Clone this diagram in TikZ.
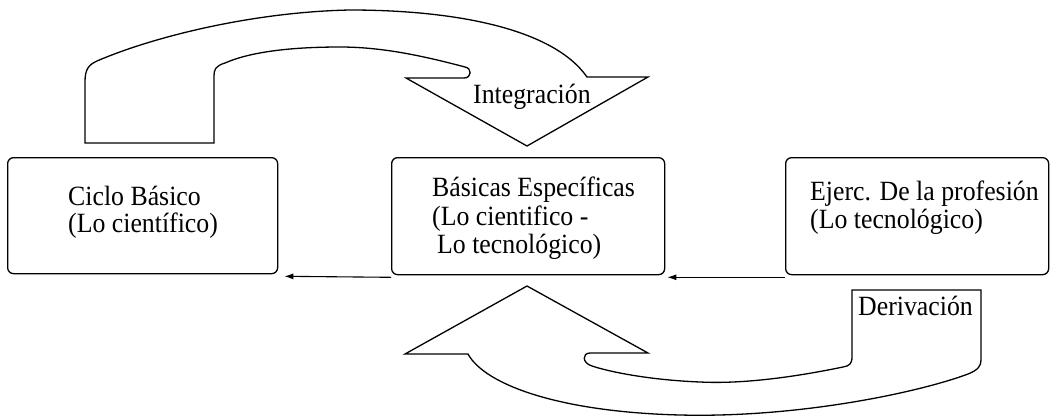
\documentclass[tikz,border=0pt]{standalone}
\usepackage{fontspec}
\setmainfont{Liberation Serif}
\usetikzlibrary{arrows.meta}
\newcommand{\vstretch}[1]{\scalebox{1}[1.08]{#1}}
\tikzset{
  box/.style={draw, line width=1.3pt, rounded corners=6pt, anchor=north west, inner sep=0pt},
  txt/.style={anchor=base west, inner sep=0pt, font=\fontsize{25.8}{30}\selectfont},
  conn/.style={line width=1.1pt, -{Latex[length=9pt,width=6pt]}},
  bigarrow/.style={draw, line width=1.3pt, line join=miter}
}
\begin{document}
\begin{tikzpicture}[x=1pt,y=-1pt]
\useasboundingbox (0,0) rectangle (1052,416);
% boxes
\node[box, minimum width=270pt, minimum height=116pt] (b1) at (7,157) {};
\node[box, minimum width=273pt, minimum height=117pt] (b2) at (391,157) {};
\node[box, minimum width=263pt, minimum height=117pt] (b3) at (785,157) {};
% box texts
\node[txt] (t1a) at (68,205) {\vstretch{Ciclo Básico}};
\node[txt] (t1b) at (68,232) {\vstretch{(Lo científico)}};
\node[txt] (t2a) at (432,196) {\vstretch{Básicas Específicas}};
\node[txt] (t2b) at (432,225) {\vstretch{(Lo cientifico -}};
\node[txt] (t2c) at (437,253) {\vstretch{Lo tecnológico)}};
\node[txt] (t3a) at (810,200) {\vstretch{Ejerc. De la profesión}};
\node[txt] (t3b) at (810,228) {\vstretch{(Lo tecnológico)}};
% connectors
\draw[conn] ([yshift=-2pt]b2.south west) -- ([xshift=6pt,yshift=-2pt]b1.south east);
\draw[conn] ([yshift=-2pt]b3.south west) -- ([xshift=2pt,yshift=-2pt]b2.south east);
% top block arrow (Integracion)
\draw[bigarrow] (85,143) -- (85,82) .. controls (85,70) and (88,65) .. (97,61)
  .. controls (150,38) and (250,12) .. (350,10)
  .. controls (450,10) and (552,27) .. (587,77) -- (648,77) -- (527,146) -- (406,78) -- (464,78)
  .. controls (472,78) and (472,68) .. (465,67)
  .. controls (420,55) and (380,47) .. (340,47)
  .. controls (290,47) and (250,52) .. (225,63)
  .. controls (215,66) and (214,70) .. (214,76) -- (214,143) -- cycle;
\node[txt] (lint) at (473,103) {\vstretch{Integración}};
% bottom block arrow (Derivacion)
\draw[bigarrow] (527,286) -- (648,353) -- (590,353)
  .. controls (582,353) and (582,363) .. (592,366)
  .. controls (610,372) and (650,380) .. (700,382)
  .. controls (740,384) and (790,378) .. (843,367)
  .. controls (849,366) and (852,364) .. (852,357) -- (852,290) -- (981,290) -- (981,360)
  .. controls (981,366) and (978,370) .. (968,374)
  .. controls (920,392) and (800,418) .. (680,415)
  .. controls (560,412) and (485,385) .. (468,354) -- (405,354) -- cycle;
\node[txt] (lder) at (858,315) {\vstretch{Derivación}};
\end{tikzpicture}
\end{document}
